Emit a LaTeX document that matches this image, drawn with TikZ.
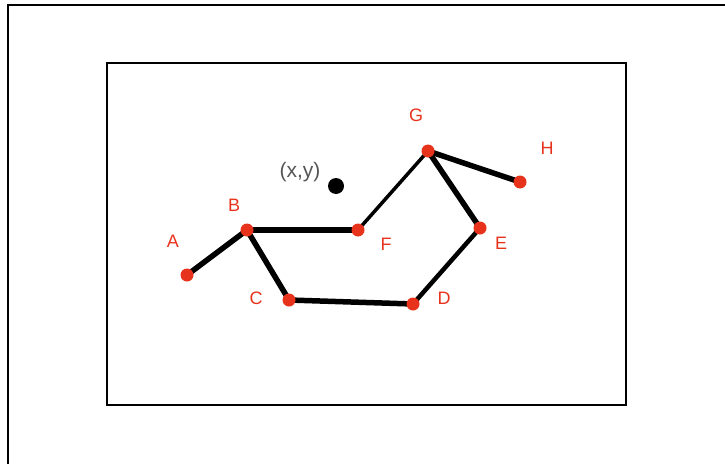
\documentclass[tikz,border=0pt]{standalone}
\usepackage{fontspec}
\setmainfont{Liberation Sans}
\definecolor{ptred}{HTML}{E8331C}
\definecolor{lblgray}{HTML}{555555}
\begin{document}
\begin{tikzpicture}[x=1pt,y=-1pt,
  pt/.style={circle,fill=ptred,inner sep=0pt,minimum size=13pt},
  lbl/.style={text=ptred,font=\fontsize{18}{18}\selectfont,inner sep=0pt},
  seg/.style={line width=5.5pt,line cap=round},
  thin/.style={line width=3.5pt,line cap=round}]
\useasboundingbox (0,0) rectangle (725,463);
\clip (0,0) rectangle (725,463);
\fill[white] (0,0) rectangle (725,463);
\draw[line width=2.5pt] (730,5) -- (8,5) -- (8,470);
\draw[line width=2.5pt] (107,63) rectangle (626,405);
% points
\coordinate (A) at (187,275);
\coordinate (B) at (247,230);
\coordinate (C) at (289,300);
\coordinate (D) at (413,304);
\coordinate (E) at (480,228);
\coordinate (F) at (358,230);
\coordinate (G) at (428,151);
\coordinate (H) at (520,182);
\draw[seg] (A) -- (B);
\draw[seg] (B) -- (C);
\draw[seg] (B) -- (F);
\draw[seg] (C) -- (D);
\draw[line width=4.5pt,line cap=round] (D) -- (E);
\draw[seg] (E) -- (G);
\draw[seg] (G) -- (H);
\draw[thin] (F) -- (G);
\foreach \p in {A,B,C,D,E,F,G,H} \node[pt] (n\p) at (\p) {};
\node[circle,fill=black,inner sep=0pt,minimum size=16pt] (xy) at (336,186) {};
\node[text=lblgray,font=\fontsize{21}{21}\selectfont,inner sep=0pt] (xylbl) at (300,172) {(x,y)};
\node[lbl] (lA) at (173,241) {A};
\node[lbl] (lB) at (234,205) {B};
\node[lbl] (lC) at (256,298) {C};
\node[lbl] (lD) at (444,298) {D};
\node[lbl] (lE) at (501,243) {E};
\node[lbl] (lF) at (386,244) {F};
\node[lbl] (lG) at (416,115) {G};
\node[lbl] (lH) at (547,148) {H};
\end{tikzpicture}
\end{document}
